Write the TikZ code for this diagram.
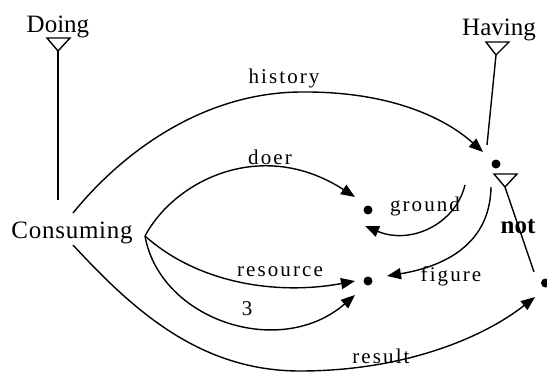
\documentclass[tikz,border=0pt]{standalone}
\usepackage{fontspec}
\setmainfont{Liberation Serif}
\newfontfamily\lblfont[LetterSpace=10]{Liberation Serif}
\newfontfamily\consfont[LetterSpace=3]{Liberation Serif}
\usetikzlibrary{arrows.meta}
\begin{document}
\begin{tikzpicture}[x=1pt,y=-1pt, line width=1.4pt,
  big/.style={font=\fontsize{25}{30}\selectfont, inner sep=0pt, anchor=base},
  lbl/.style={font={\lblfont\fontsize{21}{25}\selectfont}, inner sep=0pt, anchor=base},
  dot/.style={circle, fill, inner sep=0pt, minimum size=9pt},
  arr/.style={-{Triangle[length=14pt,width=11pt]}},
  tri/.style={line join=miter}]
\useasboundingbox (0,0) rectangle (547,373);
% text nodes
\node[big] (doing) at (58,32) {Doing};
\node[big] (having) at (499,35) {Having};
\node[big, font={\consfont\fontsize{25}{30}\selectfont}] (cons) at (72,238) {Consuming};
\node[big, font={\bfseries\fontsize{25}{30}\selectfont}] (not) at (518,233) {not};
% dots
\node[dot] (h) at (496,164) {};
\node[dot] (g) at (368,210) {};
\node[dot] (f) at (368,281) {};
\node[dot] (r) at (545.5,283) {};
% coordinates
\coordinate (dtip) at (58,51);
\coordinate (dbot) at (58,200);
\coordinate (htip) at (496,55);
\coordinate (hbot) at (487,145);
\coordinate (ntip) at (505,187);
\coordinate (nbot) at (534,272);
\coordinate (cs) at (145,236);
\coordinate (chs) at (73,213);
\coordinate (crs) at (73,245);
\coordinate (histend) at (483,152);
\coordinate (doerend) at (355,197);
\coordinate (resend) at (355,281);
\coordinate (threeend) at (355,295);
\coordinate (gstart) at (465,185);
\coordinate (gend) at (365,226);
\coordinate (fstart) at (491,187);
\coordinate (fend) at (387,276);
\coordinate (resultend) at (535,297);
% triangles
\draw[tri] (47,38) -- (70,38) -- (dtip) -- cycle;
\draw[tri] (486,42) -- (509,42) -- (htip) -- cycle;
\draw[tri] (494,174) -- (517,174) -- (ntip) -- cycle;
% lines
\draw (dtip) -- (dbot);
\draw (htip) -- (hbot);
\draw (ntip) -- (nbot);
% curves
\draw[arr] (chs) .. controls (120,155) and (200,93) .. (300,92) .. controls (390,91) and (445,118) .. (histend);
\draw[arr] (cs) .. controls (175,180) and (262,137) .. (doerend);
\draw[arr] (cs) .. controls (200,285) and (280,295) .. (resend);
\draw[arr] (cs) .. controls (160,320) and (280,360) .. (threeend);
\draw[arr] (crs) .. controls (133,310) and (200,371) .. (300,371) .. controls (400,371) and (480,340) .. (resultend);
\draw[arr] (gstart) .. controls (455,225) and (410,245) .. (gend);
\draw[arr] (fstart) .. controls (490,250) and (435,268) .. (fend);
% labels
\node[lbl] (lhist) at (284,83) {history};
\node[lbl] (ldoer) at (270,164) {doer};
\node[lbl] (lground) at (425,211) {ground};
\node[lbl] (lres) at (280,276.5) {resource};
\node[lbl] (l3) at (247,315) {3};
\node[lbl] (lfig) at (451,281) {figure};
\node[lbl] (lresult) at (381,363) {result};
\end{tikzpicture}
\end{document}
